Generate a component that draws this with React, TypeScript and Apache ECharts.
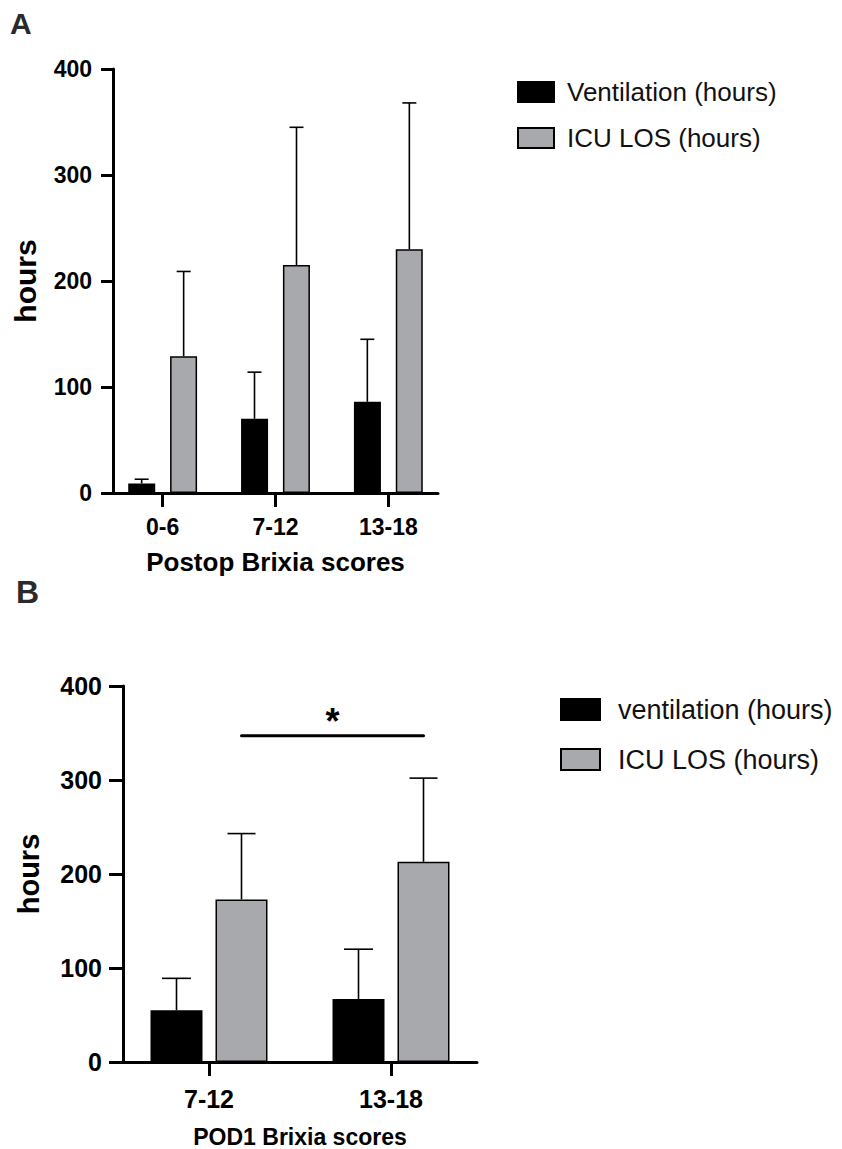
import React, { useEffect, useRef } from "react";
import * as echarts from "echarts";

// Panel A: Postop Brixia scores
const catsA = ["0-6", "7-12", "13-18"];
const ventA = [9, 70, 86];
const ventSdA = [4, 44, 59];
const icuA = [129, 215, 230];
const icuSdA = [80, 130, 138];

// Panel B: POD1 Brixia scores
const catsB = ["7-12", "13-18"];
const ventB = [55, 67];
const ventSdB = [34, 53];
const icuB = [173, 213];
const icuSdB = [70, 89];
const sigPairB = [0, 1];
const sigYB = 347;

const yTicks = [0, 100, 200, 300, 400];

const FONT = "'Liberation Sans', Arial, Helvetica, sans-serif";
const GRAY = "#a7a9ac";

function errSeries(name: string, xi: number, means: number[], sds: number[], offset: number, cap: number) {
  return {
    type: "custom",
    name: name,
    xAxisIndex: xi,
    yAxisIndex: xi,
    z: 5,
    silent: true,
    encode: { x: 0, y: 1 },
    data: means.map((m, i) => [i, m, sds[i]]),
    renderItem: (params: any, api: any) => {
      const x = api.value(0);
      const m = api.value(1);
      const sd = api.value(2);
      const p0 = api.coord([x, m]);
      const p1 = api.coord([x, m + sd]);
      const cx = p0[0] + offset;
      return {
        type: "group",
        children: [
          { type: "line", shape: { x1: cx, y1: p0[1], x2: cx, y2: p1[1] }, style: { stroke: "#000", lineWidth: 1.6 } },
          { type: "line", shape: { x1: cx - cap, y1: p1[1], x2: cx + cap, y2: p1[1] }, style: { stroke: "#000", lineWidth: 1.6 } },
        ],
      };
    },
  };
}

function xAxisCfg(gi: number, cats: string[], min: number, max: number, fs: number, margin: number, tickLen: number, name: string, nameFs: number, nameGap: number) {
  const vals = cats.map((_, i) => i);
  return {
    type: "value",
    gridIndex: gi,
    min,
    max,
    name,
    nameLocation: "middle",
    nameGap,
    nameTextStyle: { fontFamily: FONT, fontWeight: "bold", fontSize: nameFs, color: "#000" },
    axisLine: { show: true, onZero: false, lineStyle: { color: "#000", width: 3 } },
    axisTick: { show: true, length: tickLen, lineStyle: { color: "#000", width: 3 }, customValues: vals },
    axisLabel: {
      show: true,
      margin,
      customValues: vals,
      formatter: (v: number) => cats[Math.round(v)] ?? "",
      fontFamily: FONT,
      fontWeight: "bold",
      fontSize: fs,
      color: "#000",
    },
    splitLine: { show: false },
  };
}

function yAxisCfg(gi: number, fs: number, tickLen: number, nameFs: number, nameGap: number) {
  return {
    type: "value",
    gridIndex: gi,
    min: yTicks[0],
    max: yTicks[yTicks.length - 1],
    interval: 100,
    name: "hours",
    nameLocation: "middle",
    nameGap,
    nameTextStyle: { fontFamily: FONT, fontWeight: "bold", fontSize: nameFs, color: "#000" },
    axisLine: { show: true, onZero: false, lineStyle: { color: "#000", width: 3 } },
    axisTick: { show: true, length: tickLen, lineStyle: { color: "#000", width: 3 } },
    axisLabel: { margin: 21, fontFamily: FONT, fontWeight: "bold", fontSize: fs, color: "#000" },
    splitLine: { show: false },
  };
}

export default function App() {
  const ref = useRef<HTMLDivElement>(null);
  useEffect(() => {
    document.body.style.margin = "0";
    if (!ref.current) return;
    const chart = echarts.init(ref.current, null, { renderer: "svg" });
    const option: any = {
      animation: false,
      backgroundColor: "#fff",
      title: [
        { text: "A", left: 5, top: 3, textStyle: { fontFamily: FONT, fontWeight: "bold", fontSize: 30, color: "#2a2a2a" } },
        { text: "B", left: 11, top: 571, textStyle: { fontFamily: FONT, fontWeight: "bold", fontSize: 32, color: "#2a2a2a" } },
      ],
      legend: [
        {
          orient: "vertical",
          left: 512,
          top: 74,
          itemWidth: 36,
          itemHeight: 20,
          itemGap: 20,
          icon: "rect",
          data: ["Ventilation (hours)", "ICU LOS (hours)"],
          textStyle: { fontFamily: FONT, fontSize: 26, color: "#111", padding: [0, 0, 0, 8] },
          selectedMode: false,
        },
        {
          orient: "vertical",
          left: 555,
          top: 691,
          itemWidth: 39,
          itemHeight: 21,
          itemGap: 23,
          icon: "rect",
          data: ["ventilation (hours)", "ICU LOS (hours)"],
          textStyle: { fontFamily: FONT, fontSize: 27, color: "#111", padding: [0, 0, 0, 13] },
          selectedMode: false,
        },
      ],
      grid: [
        { left: 113, right: 404, top: 69, height: 424, containLabel: false },
        { left: 123, right: 365, top: 686, height: 376, containLabel: false },
      ],
      xAxis: [
        xAxisCfg(0, catsA, -0.44, 2.44, 23, 22, 14, "Postop Brixia scores", 26, 56),
        xAxisCfg(1, catsB, -0.4725, 1.4725, 25, 24, 14, "POD1 Brixia scores", 23, 63),
      ],
      yAxis: [yAxisCfg(0, 23, 12, 30, 73), yAxisCfg(1, 25, 14, 29, 80)],
      series: [
        {
          type: "bar",
          name: "Ventilation (hours)",
          xAxisIndex: 0,
          yAxisIndex: 0,
          barWidth: 27,
          barGap: "55%",
          itemStyle: { color: "#000", borderColor: "#000", borderWidth: 1.5 },
          data: ventA.map((v, i) => [i, v]),
        },
        {
          type: "bar",
          name: "ICU LOS (hours)",
          xAxisIndex: 0,
          yAxisIndex: 0,
          barWidth: 27,
          barGap: "55%",
          itemStyle: { color: GRAY, borderColor: "#000", borderWidth: 1.5 },
          data: icuA.map((v, i) => [i, v]),
        },
        errSeries("errVentA", 0, ventA, ventSdA, -21, 7),
        errSeries("errIcuA", 0, icuA, icuSdA, 21, 7),
        {
          type: "bar",
          name: "ventilation (hours)",
          xAxisIndex: 1,
          yAxisIndex: 1,
          barWidth: 52,
          barGap: "25%",
          itemStyle: { color: "#000", borderColor: "#000", borderWidth: 1.5 },
          data: ventB.map((v, i) => [i, v]),
        },
        {
          type: "bar",
          name: "ICU LOS (hours)",
          xAxisIndex: 1,
          yAxisIndex: 1,
          barWidth: 52,
          barGap: "25%",
          itemStyle: { color: GRAY, borderColor: "#000", borderWidth: 1.5 },
          data: icuB.map((v, i) => [i, v]),
        },
        errSeries("errVentB", 1, ventB, ventSdB, -32.5, 14.5),
        errSeries("errIcuB", 1, icuB, icuSdB, 32.5, 14),
        {
          type: "custom",
          name: "sigB",
          xAxisIndex: 1,
          yAxisIndex: 1,
          z: 6,
          silent: true,
          encode: { x: [0, 1], y: 2 },
          data: [[sigPairB[0], sigPairB[1], sigYB]],
          renderItem: (params: any, api: any) => {
            const p0 = api.coord([api.value(0), api.value(2)]);
            const p1 = api.coord([api.value(1), api.value(2)]);
            const x1 = p0[0] + 32.5;
            const x2 = p1[0] + 32.5;
            return {
              type: "group",
              children: [
                { type: "line", shape: { x1, y1: p0[1], x2, y2: p1[1] }, style: { stroke: "#000", lineWidth: 3, lineCap: "round" } },
                {
                  type: "text",
                  x: (x1 + x2) / 2,
                  y: p0[1] - 14,
                  style: { text: "*", fontFamily: FONT, fontWeight: "bold", fontSize: 36, fill: "#000", align: "center", verticalAlign: "middle" },
                },
              ],
            };
          },
        },
      ],
    };
    chart.setOption(option);
    return () => chart.dispose();
  }, []);
  return <div ref={ref} style={{ width: 842, height: 1149 }} />;
}
